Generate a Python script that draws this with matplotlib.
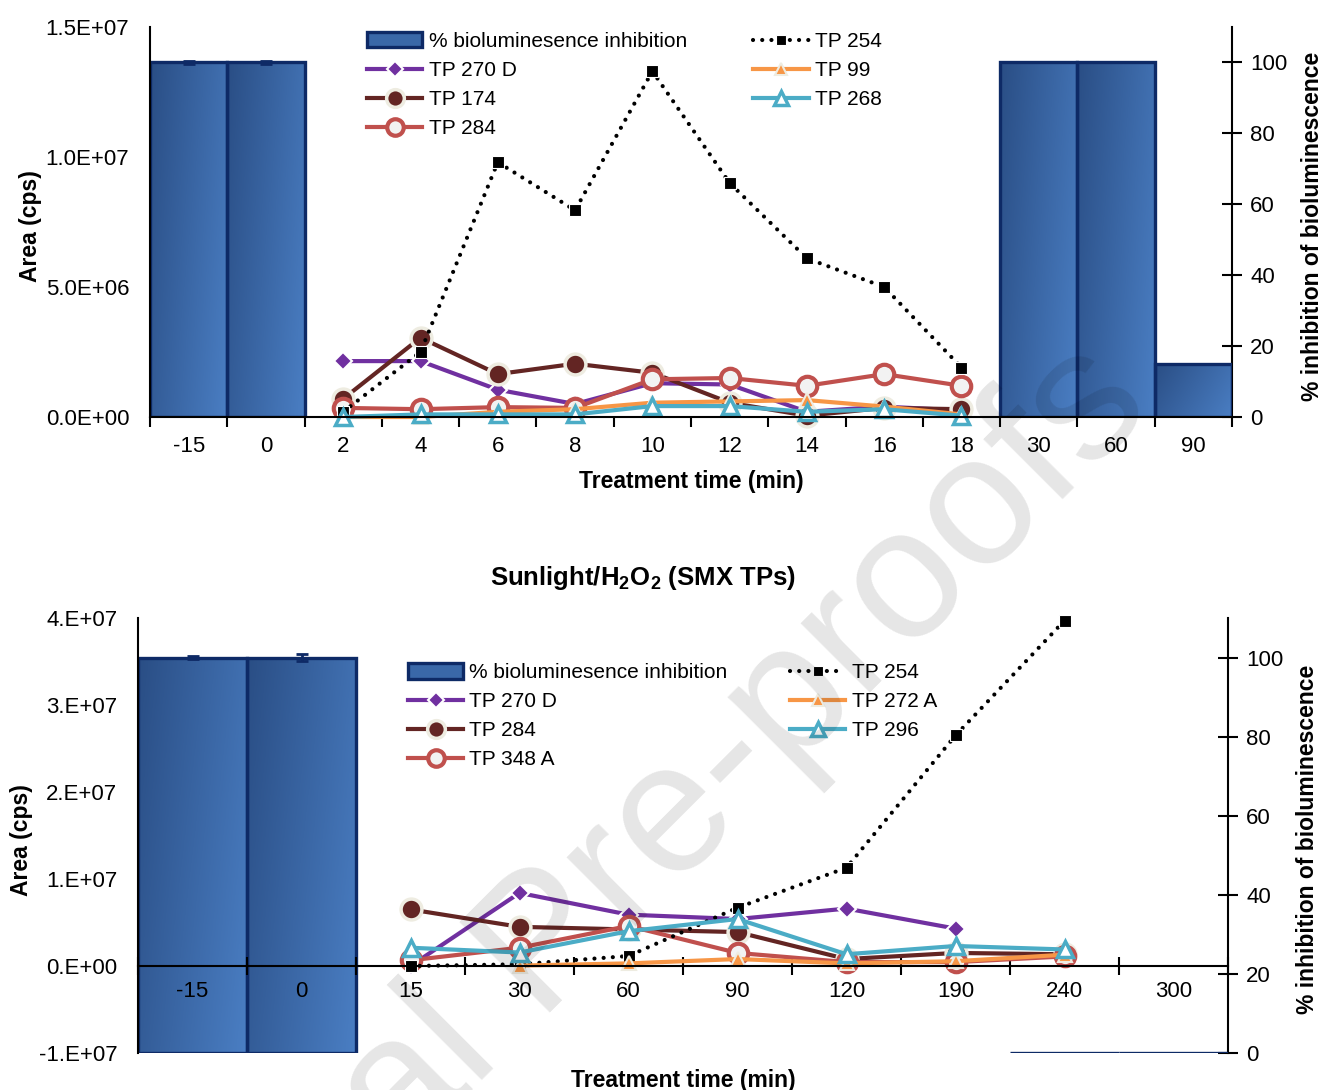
import numpy as np
import matplotlib
matplotlib.use("Agg")
import matplotlib.pyplot as plt
from matplotlib.patches import Patch
from matplotlib.colors import LinearSegmentedColormap
from matplotlib.ticker import FixedLocator, FixedFormatter

plt.rcParams['font.family'] = ['Liberation Sans', 'DejaVu Sans']
plt.rcParams['mathtext.fontset'] = 'custom'
plt.rcParams['mathtext.rm'] = 'Liberation Sans'
plt.rcParams['mathtext.bf'] = 'Liberation Sans:bold'

nan = np.nan

# ---------------- upper panel ----------------
times_a = ['-15', '0', '2', '4', '6', '8', '10', '12', '14', '16', '18', '30', '60', '90']
inhib_a = [100, 100, nan, nan, nan, nan, nan, nan, nan, nan, nan, 100, 100, 15]
inhib_err_a = [0.4, 0.4, 0, 0, 0, 0, 0, 0, 0, 0, 0, 0, 0, 0]
tp254_a = [nan, nan, 0.2e6, 2.5e6, 9.8e6, 7.95e6, 13.3e6, 9.0e6, 6.1e6, 5.0e6, 1.9e6, nan, nan, nan]
tp270d_a = [nan, nan, 2.15e6, 2.15e6, 1.05e6, 0.5e6, 1.3e6, 1.25e6, 0.2e6, 0.4e6, 0.25e6, nan, nan, nan]
tp174_a = [nan, nan, 0.7e6, 3.05e6, 1.65e6, 2.05e6, 1.7e6, 0.55e6, 0.05e6, 0.35e6, 0.3e6, nan, nan, nan]
tp284_a = [nan, nan, 0.35e6, 0.3e6, 0.38e6, 0.35e6, 1.45e6, 1.5e6, 1.2e6, 1.65e6, 1.2e6, nan, nan, nan]
tp99_a = [nan, nan, 0.0, 0.0, 0.2e6, 0.3e6, 0.55e6, 0.6e6, 0.65e6, 0.4e6, 0.1e6, nan, nan, nan]
tp268_a = [nan, nan, 0.0, 0.1e6, 0.1e6, 0.1e6, 0.42e6, 0.42e6, 0.2e6, 0.3e6, 0.05e6, nan, nan, nan]
yticks_a = [0, 5e6, 1e7, 1.5e7]
ylabels_a = ['0.0E+00', '5.0E+06', '1.0E+07', '1.5E+07']

# ---------------- lower panel ----------------
times_b = ['-15', '0', '15', '30', '60', '90', '120', '190', '240', '300']
inhib_b = [100, 100, nan, nan, nan, nan, nan, nan, 0, 0]
inhib_err_b = [0.4, 0.9, 0, 0, 0, 0, 0, 0, 0, 0]
tp254_b = [nan, nan, 0.0, 0.2e6, 1.15e6, 6.7e6, 11.3e6, 26.5e6, 39.7e6, nan]
tp270d_b = [nan, nan, 0.0, 8.4e6, 5.9e6, 5.4e6, 6.6e6, 4.3e6, nan, nan]
tp284_b = [nan, nan, 6.5e6, 4.5e6, 4.2e6, 3.9e6, 0.8e6, 1.5e6, 1.35e6, nan]
tp348a_b = [nan, nan, 0.65e6, 2.1e6, 4.6e6, 1.5e6, 0.45e6, 0.45e6, 1.1e6, nan]
tp272a_b = [nan, nan, nan, 0.05e6, 0.3e6, 0.8e6, 0.3e6, 0.55e6, 1.3e6, nan]
tp296_b = [nan, nan, 2.1e6, 1.55e6, 4.0e6, 5.4e6, 1.35e6, 2.3e6, 1.9e6, nan]
yticks_b = [-1e7, 0, 1e7, 2e7, 3e7, 4e7]
ylabels_b = ['-1.E+07', '0.E+00', '1.E+07', '2.E+07', '3.E+07', '4.E+07']

inhib_ticks = [0, 20, 40, 60, 80, 100]

NAVY = '#0E2A66'
PURPLE = '#7030A0'
BROWN = '#632523'
RED = '#C0504D'
ORANGE = '#F79646'
CYAN = '#4BACC6'
bar_cmap = LinearSegmentedColormap.from_list('barfill', ['#2A4E85', '#4A7EC3'])

STYLES = {
    'dots_square': dict(color='black', ls=(0, (0.01, 2.2)), lw=3.0, dash_capstyle='round',
                        marker='s', ms=8.5, mfc='black', mec='white', mew=0.8),
    'purple': dict(color=PURPLE, lw=3.0, marker='D', ms=9, mfc=PURPLE, mec='white', mew=1.5),
    'brown': dict(color=BROWN, lw=3.0, marker='o', ms=15, mfc=BROWN, mec='#EEECE1', mew=2.5),
    'red': dict(color=RED, lw=3.0, marker='o', ms=14, mfc='#F2F2F2', mec=RED, mew=3),
    'orange': dict(color=ORANGE, lw=3.0, marker='^', ms=10, mfc=ORANGE, mec='#EEECE1', mew=1.5),
    'cyan': dict(color=CYAN, lw=3.0, marker='^', ms=12, mfc='white', mec=CYAN, mew=2.5),
}

TICK_FS = 16
LEG_FS = 15
LAB_FS = 16.5

fig = plt.figure(figsize=(13.23, 10.90), dpi=100)


def gradient_bars(ax2, x, vals, errs):
    bars = ax2.bar(x, vals, width=1.0, facecolor='none', edgecolor=NAVY,
                   linewidth=2.4, zorder=3)
    yy, xx = np.mgrid[0:1:64j, 0:1:64j]
    grad = 0.7 * xx + 0.3 * yy
    for b in bars:
        h = b.get_height()
        if not np.isfinite(h) or h <= 0:
            continue
        x0 = b.get_x()
        im = ax2.imshow(grad, extent=(x0, x0 + b.get_width(), 0, h), cmap=bar_cmap,
                        aspect='auto', interpolation='bilinear', zorder=2)
        im.set_clip_path(b)
    ex = [xi for xi, e in zip(x, errs) if e > 0]
    ev = [v for v, e in zip(vals, errs) if e > 0]
    ee = [e for e in errs if e > 0]
    ax2.errorbar(ex, ev, yerr=ee, fmt='none', ecolor=NAVY, elinewidth=2,
                 capsize=4, capthick=2, zorder=4)


def panel(rect, times, inhib, errs, series, ylim, yticks, ylabels, zero_axis,
          leg_anchor, xpad, xlabel_y, ylabel_x, y2label_x, col_space):
    ax = fig.add_axes(rect)
    ax2 = ax.twinx()
    ax.set_zorder(ax2.get_zorder() + 1)
    ax.patch.set_visible(False)
    x = np.arange(len(times))

    gradient_bars(ax2, x, inhib, errs)

    handles = [Patch(facecolor='#3A68A8', edgecolor=NAVY, linewidth=2.4,
                     label='% bioluminesence inhibition')]
    for name, vals, sty in series:
        ln, = ax.plot(x, vals, label=name, clip_on=False, **STYLES[sty])
        handles.append(ln)

    ax.set_xlim(-0.5, len(times) - 0.5)
    ax.set_ylim(*ylim)
    ax2.set_ylim(0, 110)

    ax.yaxis.set_major_locator(FixedLocator(yticks))
    ax.yaxis.set_major_formatter(FixedFormatter(ylabels))
    ax.tick_params(axis='y', length=0, pad=15, labelsize=TICK_FS)

    ax.set_xticks(x)
    ax.set_xticklabels(times)
    ax.set_xticks(np.arange(len(times) + 1) - 0.5, minor=True)
    if zero_axis:
        ax.spines['bottom'].set_position(('data', 0))
        ax.tick_params(axis='x', which='minor', direction='inout', length=13, width=1.5)
    else:
        ax.tick_params(axis='x', which='minor', direction='out', length=7, width=1.5)
    ax.tick_params(axis='x', which='major', length=0, pad=xpad, labelsize=TICK_FS)

    ax2.set_yticks(inhib_ticks)
    ax2.tick_params(axis='y', direction='inout', length=14, width=1.5, pad=6,
                    labelsize=TICK_FS)

    for s in ['top', 'right']:
        ax.spines[s].set_visible(False)
    for s in ['top', 'left', 'bottom']:
        ax2.spines[s].set_visible(False)
    for sp in (ax.spines['left'], ax.spines['bottom'], ax2.spines['right']):
        sp.set_linewidth(1.5)

    ax.set_xlabel('Treatment time (min)', fontsize=LAB_FS, fontweight='bold')
    ax.xaxis.set_label_coords(0.5, xlabel_y)
    ax.set_ylabel('Area (cps)', fontsize=LAB_FS, fontweight='bold')
    ax.yaxis.set_label_coords(ylabel_x, 0.49)
    ax2.set_ylabel('% inhibition of bioluminescence', fontsize=LAB_FS, fontweight='bold')
    ax2.yaxis.set_label_coords(y2label_x, 0.49)

    ax.legend(handles=handles, ncol=2, loc='upper left', bbox_to_anchor=leg_anchor,
              frameon=False, fontsize=LEG_FS, handlelength=2.65, handleheight=0.75,
              handletextpad=0.3, labelspacing=0.48, columnspacing=col_space,
              borderpad=0, borderaxespad=0, markerscale=0.85)
    return ax, ax2


series_a = [('TP 270 D', tp270d_a, 'purple'), ('TP 174', tp174_a, 'brown'),
            ('TP 284', tp284_a, 'red'), ('TP 254', tp254_a, 'dots_square'),
            ('TP 99', tp99_a, 'orange'), ('TP 268', tp268_a, 'cyan')]
series_b = [('TP 270 D', tp270d_b, 'purple'), ('TP 284', tp284_b, 'brown'),
            ('TP 348 A', tp348a_b, 'red'), ('TP 254', tp254_b, 'dots_square'),
            ('TP 272 A', tp272a_b, 'orange'), ('TP 296', tp296_b, 'cyan')]

W, H = 1323, 1090
rect_a = [150 / W, 1 - 417 / H, 1082 / W, 390 / H]
rect_b = [138 / W, 1 - 1053 / H, 1090 / W, 435 / H]

panel(rect_a, times_a, inhib_a, inhib_err_a, series_a, (0, 1.5e7), yticks_a, ylabels_a,
      False, (0.2006, 0.987), 14, -0.136, -0.100, 1.064, 3.2)
panel(rect_b, times_b, inhib_b, inhib_err_b, series_b, (-1e7, 4e7), yticks_b, ylabels_b,
      True, (0.2477, 0.896), 11, -0.037, -0.096, 1.062, 3.0)

fig.text(643 / W, 1 - 578 / H, r'Sunlight/H$_\mathbf{2}$O$_\mathbf{2}$ (SMX TPs)',
         ha='center', va='center', fontsize=18.5, fontweight='bold')

fig.text(0.438, 0.160, 'Journal Pre-proofs', rotation=45, rotation_mode='anchor',
         ha='center', va='center', fontsize=134, color='black', alpha=0.1, zorder=100)

fig.savefig('out.png', dpi=100)
